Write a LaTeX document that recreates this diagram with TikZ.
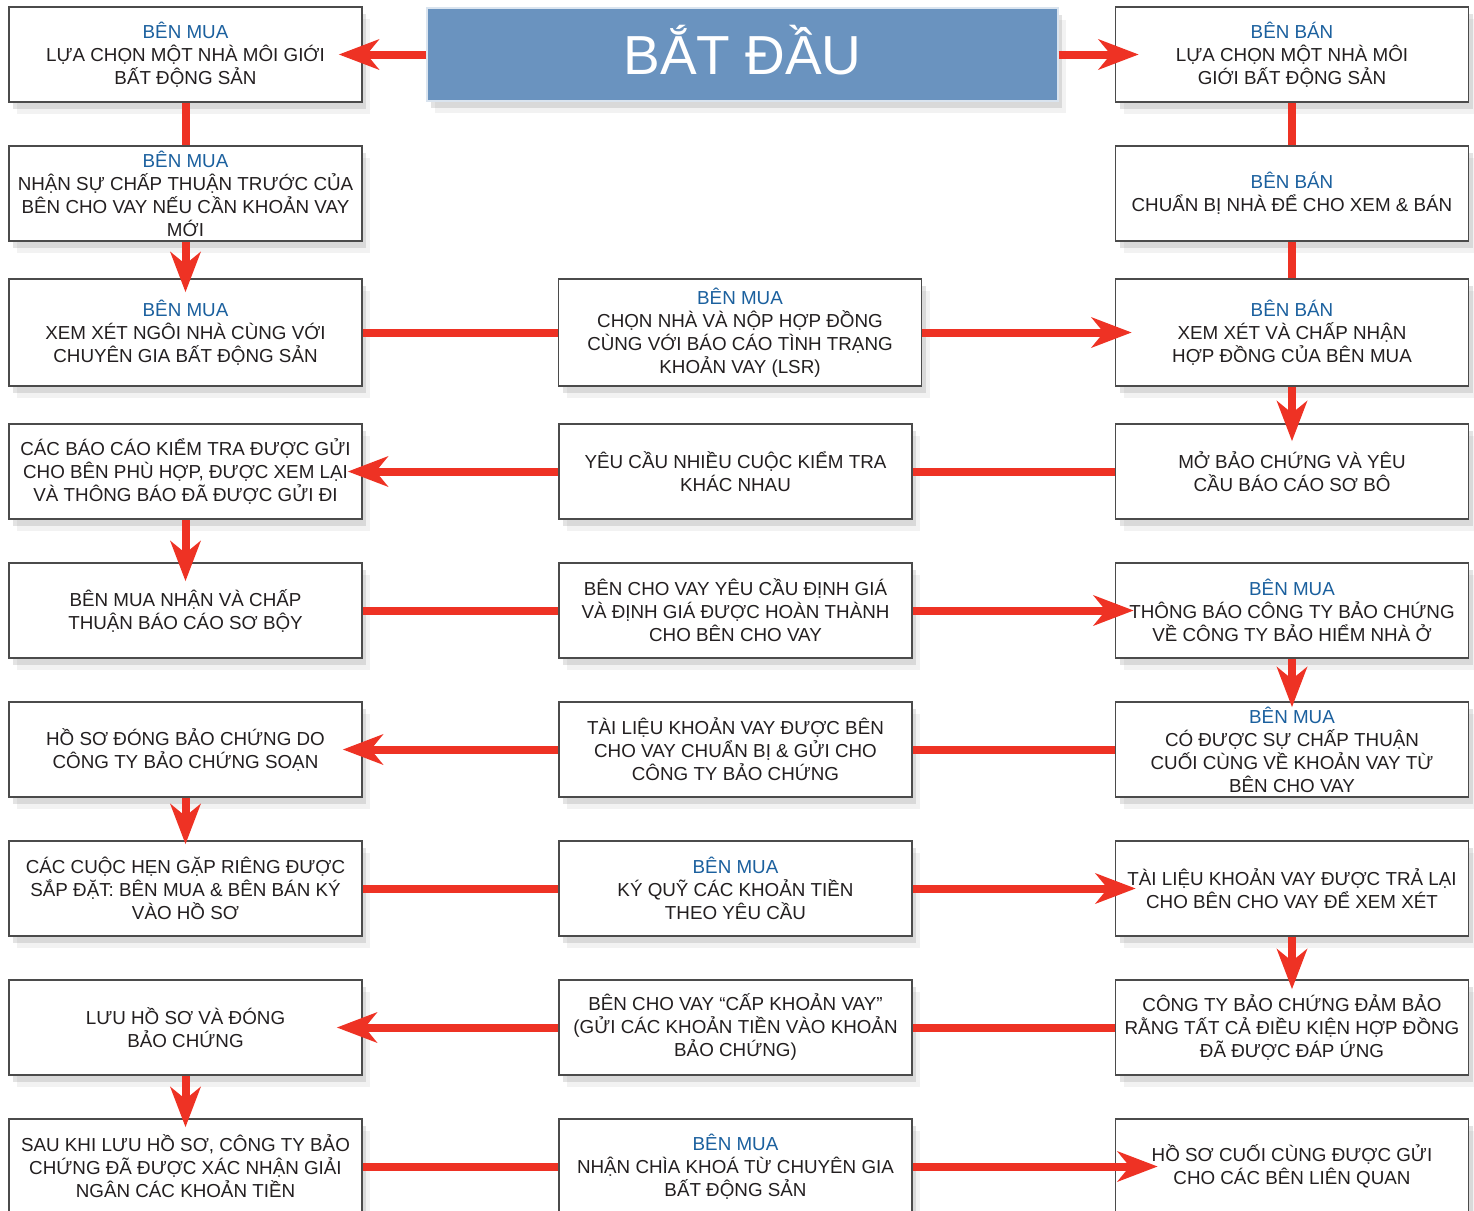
\documentclass[tikz,border=0pt]{standalone}
\usepackage{fontspec}
\setmainfont{Liberation Sans}
\usetikzlibrary{arrows.meta,shadows}
\definecolor{flowred}{RGB}{238,50,36}
\definecolor{startblue}{RGB}{106,147,191}
\definecolor{partyblue}{RGB}{27,96,158}
\definecolor{boxtext}{RGB}{35,31,32}
\definecolor{boxline}{RGB}{75,75,75}
\newcommand{\party}[1]{\textcolor{partyblue}{#1}}

\begin{document}
\begin{tikzpicture}[->,>={Stealth[length=20pt,width=15pt,inset=6pt]},node distance=69.5pt,
  soft shadow/.style={drop shadow={shadow xshift=4pt,shadow yshift=-6pt,opacity=0.1},
    drop shadow={shadow xshift=2pt,shadow yshift=-3.5pt,opacity=0.22}},
  main node/.style={rectangle,draw=boxline,line width=0.8pt,fill=white,
    minimum width=176.5pt,minimum height=47.5pt,inner sep=1pt,align=center,
    text=boxtext,font=\fontsize{9.4}{11.5}\selectfont,soft shadow},
  tall node/.style={main node,minimum height=53.5pt},
  start node/.style={rectangle,fill=startblue,draw=white!75!startblue,line width=0.6pt,
    minimum width=315.5pt,minimum height=46.5pt,text height=20pt,text depth=0pt,
    text=white,font=\fontsize{27.5}{30}\selectfont,soft shadow},
  flow/.style={every edge/.style={draw=flowred,line width=4pt}}]

  \useasboundingbox (0,0) rectangle (737pt,-605.5pt);

  \node[main node] (L1) at (92.75pt,-27.25pt) {\party{BÊN MUA}\\LỰA CHỌN MỘT NHÀ MÔI GIỚI\\BẤT ĐỘNG SẢN};
  \node[start node] (start) [node distance=278.5pt,right of=L1] {BẮT ĐẦU};
  \node[main node] (R1) [node distance=553.25pt,right of=L1] {\party{BÊN BÁN}\\LỰA CHỌN MỘT NHÀ MÔI\\GIỚI BẤT ĐỘNG SẢN};
  \node[main node] (L2) [below of=L1] {\party{BÊN MUA}\\NHẬN SỰ CHẤP THUẬN TRƯỚC CỦA\\BÊN CHO VAY NẾU CẦN KHOẢN VAY\\MỚI};
  \node[main node] (R2) [below of=R1] {\party{BÊN BÁN}\\CHUẨN BỊ NHÀ ĐỂ CHO XEM \& BÁN};
  \node[tall node] (L3) [below of=L2] {\party{BÊN MUA}\\XEM XÉT NGÔI NHÀ CÙNG VỚI\\CHUYÊN GIA BẤT ĐỘNG SẢN};
  \node[tall node,minimum width=181.5pt] (M3) [node distance=277.25pt,right of=L3] {\party{BÊN MUA}\\CHỌN NHÀ VÀ NỘP HỢP ĐỒNG\\CÙNG VỚI BÁO CÁO TÌNH TRẠNG\\KHOẢN VAY (LSR)};
  \node[tall node] (R3) [below of=R2] {\party{BÊN BÁN}\\XEM XÉT VÀ CHẤP NHẬN\\HỢP ĐỒNG CỦA BÊN MUA};
  \node[main node] (L4) [below of=L3] {CÁC BÁO CÁO KIỂM TRA ĐƯỢC GỬI\\CHO BÊN PHÙ HỢP, ĐƯỢC XEM LẠI\\VÀ THÔNG BÁO ĐÃ ĐƯỢC GỬI ĐI};
  \node[main node] (M4) [node distance=275pt,right of=L4] {YÊU CẦU NHIỀU CUỘC KIỂM TRA\\KHÁC NHAU};
  \node[main node] (R4) [below of=R3] {MỞ BẢO CHỨNG VÀ YÊU\\CẦU BÁO CÁO SƠ BÔ};
  \node[main node] (L5) [below of=L4] {BÊN MUA NHẬN VÀ CHẤP\\THUẬN BÁO CÁO SƠ BỘY};
  \node[main node] (M5) [node distance=275pt,right of=L5] {BÊN CHO VAY YÊU CẦU ĐỊNH GIÁ\\VÀ ĐỊNH GIÁ ĐƯỢC HOÀN THÀNH\\CHO BÊN CHO VAY};
  \node[main node] (R5) [below of=R4] {\party{BÊN MUA}\\THÔNG BÁO CÔNG TY BẢO CHỨNG\\VỀ CÔNG TY BẢO HIỂM NHÀ Ở};
  \node[main node] (L6) [below of=L5] {HỒ SƠ ĐÓNG BẢO CHỨNG DO\\CÔNG TY BẢO CHỨNG SOẠN};
  \node[main node] (M6) [node distance=275pt,right of=L6] {TÀI LIỆU KHOẢN VAY ĐƯỢC BÊN\\CHO VAY CHUẨN BỊ \& GỬI CHO\\CÔNG TY BẢO CHỨNG};
  \node[main node] (R6) [below of=R5] {\party{BÊN MUA}\\CÓ ĐƯỢC SỰ CHẤP THUẬN\\CUỐI CÙNG VỀ KHOẢN VAY TỪ\\BÊN CHO VAY};
  \node[main node] (L7) [below of=L6] {CÁC CUỘC HẸN GẶP RIÊNG ĐƯỢC\\SẮP ĐẶT: BÊN MUA \& BÊN BÁN KÝ\\VÀO HỒ SƠ};
  \node[main node] (M7) [node distance=275pt,right of=L7] {\party{BÊN MUA}\\KÝ QUỸ CÁC KHOẢN TIỀN\\THEO YÊU CẦU};
  \node[main node] (R7) [below of=R6] {TÀI LIỆU KHOẢN VAY ĐƯỢC TRẢ LẠI\\CHO BÊN CHO VAY ĐỂ XEM XÉT};
  \node[main node] (L8) [below of=L7] {LƯU HỒ SƠ VÀ ĐÓNG\\BẢO CHỨNG};
  \node[main node] (M8) [node distance=275pt,right of=L8] {BÊN CHO VAY “CẤP KHOẢN VAY”\\(GỬI CÁC KHOẢN TIỀN VÀO KHOẢN\\BẢO CHỨNG)};
  \node[main node] (R8) [below of=R7] {CÔNG TY BẢO CHỨNG ĐẢM BẢO\\RẰNG TẤT CẢ ĐIỀU KIỆN HỢP ĐỒNG\\ĐÃ ĐƯỢC ĐÁP ỨNG};
  \node[main node] (L9) [below of=L8] {SAU KHI LƯU HỒ SƠ, CÔNG TY BẢO\\CHỨNG ĐÃ ĐƯỢC XÁC NHẬN GIẢI\\NGÂN CÁC KHOẢN TIỀN};
  \node[main node] (M9) [node distance=275pt,right of=L9] {\party{BÊN MUA}\\NHẬN CHÌA KHOÁ TỪ CHUYÊN GIA\\BẤT ĐỘNG SẢN};
  \node[main node] (R9) [below of=R8] {HỒ SƠ CUỐI CÙNG ĐƯỢC GỬI\\CHO CÁC BÊN LIÊN QUAN};

  \path[flow]
    (start) edge[shorten >=-12pt] (L1)
    (start) edge[shorten >=-12pt] (R1)
    (L1) edge[-] (L2)
    (L2) edge[shorten >=-7pt] (L3)
    (L3) edge[-] (M3)
    (M3) edge[shorten >=-8.5pt] (R3)
    (R1) edge[-] (R2)
    (R2) edge[-] (R3)
    (R3) edge[shorten >=-9pt] (R4)
    (R4) edge[-] (M4)
    (M4) edge[shorten >=-7.5pt] (L4)
    (L4) edge[shorten >=-9.5pt] (L5)
    (L5) edge[-] (M5)
    (M5) edge[shorten >=-9.5pt] (R5)
    (R5) edge[shorten >=-3pt] (R6)
    (R6) edge[-] (M6)
    (M6) edge[shorten >=-10pt] (L6)
    (L6) edge[shorten >=-2pt] (L7)
    (L7) edge[-] (M7)
    (M7) edge[shorten >=-10.5pt] (R7)
    (R7) edge[shorten >=-5pt] (R8)
    (R8) edge[-] (M8)
    (M8) edge[shorten >=-13pt] (L8)
    (L8) edge[shorten >=-4.5pt] (L9)
    (L9) edge[-] (M9)
    (M9) edge[shorten >=-21.5pt] (R9);
\end{tikzpicture}
\end{document}
